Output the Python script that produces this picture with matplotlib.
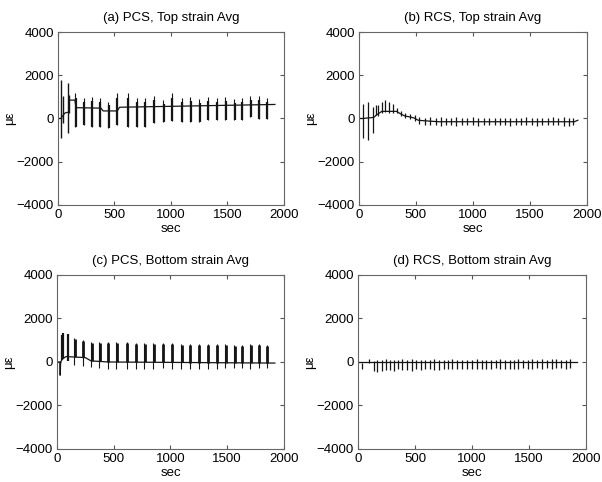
import numpy as np
import matplotlib
matplotlib.use("Agg")
import matplotlib.pyplot as plt

plt.rcParams["font.family"] = ["Liberation Sans", "DejaVu Sans"]

# load cycle times shared by the PCS panels (sec)
pcs_times = [153, 227, 301, 372, 445, 522, 617, 696, 770, 850, 932, 1009,
             1094, 1171, 1251, 1328, 1407, 1481, 1561, 1628, 1702, 1776, 1850]

# (a) PCS top strain
a_base_t = [0, 25, 60, 95, 100, 150, 160, 380, 400, 525, 545, 1920]
a_base_v = [0, 0, 250, 300, 850, 850, 500, 480, 350, 350, 520, 650]
a_early_t = [27, 47, 86, 100]
a_early_hi = [1780, 1020, 1660, 1100]
a_early_lo = [-900, -200, -680, 250]
a_hi = [1170, 940, 985, 940, 785, 1170, 1170, 940, 940, 1047, 862, 1170,
        940, 985, 893, 985, 940, 985, 893, 940, 1047, 1047, 970]
a_lo = [-370, -320, -370, -370, -450, -290, -370, -370, -370, -220, -140, -110,
        -140, -140, -140, -60, -60, -90, -60, -60, 60, -15, -30]

# (b) RCS top strain
b_base_t = [0, 30, 130, 150, 200, 330, 360, 400, 440, 480, 520, 560, 700, 1890, 1920]
b_base_v = [0, 0, 50, 150, 330, 330, 230, 120, 80, 30, -80, -100, -150, -150, -80]
b_times = [38, 82, 120, 145, 165, 200, 230, 265, 295, 330, 365, 405, 445, 490,
           529, 582, 623, 675, 719, 763, 804, 851, 900, 944, 1003, 1047, 1096,
           1140, 1190, 1235, 1282, 1328, 1375, 1420, 1468, 1515, 1560, 1608,
           1655, 1700, 1748, 1795, 1842, 1880]
b_hi = [680, 785, 550, 630, 630, 785, 860, 740, 680, 500, 350, 250, 200, 150,
        50, 30, 60, 20, 50, 40, 0, 60, 30, 20, 50, 10, 40,
        20, 0, 30, 40, 10, 30, 20, 50, 0, 30, 20,
        40, 60, 10, 50, 30, 20]
b_lo = [-910, -990, -680, 150, 120, 250, 280, 250, 270, 250, 100, 0, -30, -100,
        -250, -300, -320, -280, -330, -300, -280, -330, -300, -320, -290, -330, -300,
        -310, -300, -320, -290, -330, -300, -310, -320, -300, -330, -290,
        -310, -320, -300, -330, -340, -300]

# (c) PCS bottom strain
c_base_t = [0, 25, 28, 32, 50, 80, 250, 300, 450, 1920]
c_base_v = [0, 0, -610, 0, 150, 250, 200, 50, 0, -50]
c_early_t = [41, 56, 94]
c_early_hi = [1250, 1330, 1270]
c_early_lo = [100, 150, 50]
c_hi = [1120, 1030, 920, 920, 918, 918, 918, 872, 872, 872, 872, 872,
        811, 811, 811, 840, 840, 811, 765, 765, 811, 811, 795]
c_lo = [-150, -200, -230, -275, -300, -300, -300, -306, -306, -306, -275, -306,
        -306, -306, -306, -306, -306, -275, -275, -275, -306, -275, -275]

# (d) RCS bottom strain
d_base_t = [0, 1920]
d_base_v = [-20, -20]
d_times = [32, 96, 140, 169, 208, 243, 280, 316, 354, 389, 433, 476, 512, 550,
           588, 629, 667, 710, 754, 792, 827, 871, 915, 959, 997, 1041, 1084,
           1126, 1164, 1208, 1246, 1287, 1331, 1369, 1407, 1451, 1492, 1530,
           1574, 1612, 1656, 1700, 1741, 1782, 1823, 1858]
d_hi = [-60, 150, 60, 100, 90, 120, 100, 110, 90, 120, 100, 130, 100, 90,
        110, 100, 130, 90, 110, 100, 120, 90, 100, 110, 100, 120, 90,
        100, 110, 90, 120, 100, 110, 90, 130, 100, 110, 120,
        100, 130, 110, 140, 120, 100, 110, 120]
d_lo = [-320, -60, -430, -450, -400, -380, -350, -400, -330, -380, -360, -400, -330, -350,
        -330, -300, -350, -380, -320, -330, -300, -310, -320, -300, -330, -300, -310,
        -300, -320, -290, -310, -300, -320, -300, -310, -290, -320, -300,
        -290, -310, -280, -300, -290, -280, -300, -290]

line_c = "#151515"
fig = plt.figure(figsize=(6.02, 4.82), dpi=100)
positions = {
    "a": [0.0963, 0.5747, 0.3754, 0.3589],
    "b": [0.5963, 0.5747, 0.3787, 0.3589],
    "c": [0.0947, 0.0685, 0.3770, 0.3610],
    "d": [0.5947, 0.0685, 0.3787, 0.3610],
}
titles = {
    "a": "(a) PCS, Top strain Avg",
    "b": "(b) RCS, Top strain Avg",
    "c": "(c) PCS, Bottom strain Avg",
    "d": "(d) RCS, Bottom strain Avg",
}
axes = {k: fig.add_axes(p) for k, p in positions.items()}

# (a)
ax = axes["a"]
ax.plot(a_base_t, a_base_v, color=line_c, lw=0.9)
ax.vlines(a_early_t, a_early_lo, a_early_hi, color=line_c, lw=1.0)
ax.vlines(pcs_times, a_lo, a_hi, color=line_c, lw=0.8)
ax.vlines(np.array(pcs_times) + 4, a_lo, np.array(a_hi) * 0.8, color=line_c, lw=1.6)

# (b)
ax = axes["b"]
ax.plot(b_base_t, b_base_v, color=line_c, lw=0.9)
ax.vlines(b_times, b_lo, b_hi, color=line_c, lw=0.9)

# (c)
ax = axes["c"]
ax.plot(c_base_t, c_base_v, color=line_c, lw=0.9)
ax.vlines(c_early_t, c_early_lo, c_early_hi, color=line_c, lw=1.6)
ax.vlines(pcs_times, c_lo, c_hi, color=line_c, lw=0.8)
c_core = np.interp(pcs_times, c_base_t, c_base_v)
ax.vlines(np.array(pcs_times) + 4, c_core, np.array(c_hi) * 0.95, color=line_c, lw=2.0)

# (d)
ax = axes["d"]
ax.plot(d_base_t, d_base_v, color=line_c, lw=0.9)
ax.vlines(d_times, d_lo, d_hi, color=line_c, lw=0.9)

for k, ax in axes.items():
    ax.set_xlim(0, 2000)
    ax.set_ylim(-4000, 4000)
    ax.set_xticks([0, 500, 1000, 1500, 2000])
    ax.set_yticks([-4000, -2000, 0, 2000, 4000])
    ax.tick_params(direction="in", top=True, right=True, length=3,
                   labelsize=9.5, color="#555555", pad=3)
    for s in ax.spines.values():
        s.set_color("#666666")
        s.set_linewidth(0.8)
    ax.set_title(titles[k], fontsize=9.5, pad=8)
    ax.set_xlabel("sec", fontsize=9.5, labelpad=1)
    ax.set_ylabel("\u03bc\u03b5", fontsize=9.5, labelpad=0)

fig.savefig("out.png", dpi=100)
